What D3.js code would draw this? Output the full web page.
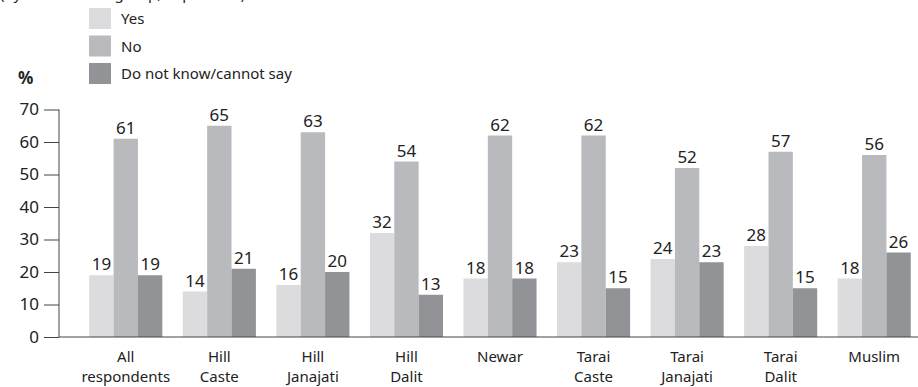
<!DOCTYPE html>
<html>
<head>
<meta charset="utf-8">
<script src="https://cdn.jsdelivr.net/npm/d3@7"></script>
<style>
    body { margin: 0; background: #fff; }
    text { font-family: "Noto Sans", sans-serif; fill: #222; }
</style>
</head>
<body>
<svg id="chart" width="918" height="387"></svg>
<script>
// chart data
let groups = [
    ["All", "respondents"], ["Hill", "Caste"], ["Hill", "Janajati"], ["Hill", "Dalit"],
    ["Newar"], ["Tarai", "Caste"], ["Tarai", "Janajati"], ["Tarai", "Dalit"], ["Muslim"]
];
let seriesNames = ["Yes", "No", "Do not know/cannot say"];
let yesValues = [19, 14, 16, 32, 18, 23, 24, 28, 18];
let noValues = [61, 65, 63, 54, 62, 62, 52, 57, 56];
let dkValues = [19, 21, 20, 13, 18, 15, 23, 15, 26];
let yTicks = [0, 10, 20, 30, 40, 50, 60, 70];

let colors = d3.scaleOrdinal()
    .domain(seriesNames)
    .range(["#dcdcde", "#b9babd", "#929396"]);

let svg = d3.select("#chart");
let axisX = 59;

let x0 = d3.scaleBand()
    .domain(d3.range(groups.length))
    .range([79, 921]);

let x1 = d3.scaleBand()
    .domain(seriesNames)
    .range([0, x0.bandwidth()])
    .paddingOuter(0.42)
    .paddingInner(0);

let y = d3.scaleLinear()
    .domain([0, 70])
    .range([337, 109.5]);

// title line, mostly cut off at the top
svg.append("text")
    .attr("x", 0)
    .attr("y", -1)
    .style("font-size", "15px")
    .text("(by ethnic/caste group, in per cent)");

// legend
let legend = svg.append("g").selectAll("g")
    .data(seriesNames)
    .join("g")
    .attr("transform", (d, i) => `translate(89, ${8 + i * 27.5})`);
legend.append("rect")
    .attr("width", 22)
    .attr("height", 21)
    .attr("fill", (d) => colors(d));
legend.append("text")
    .attr("x", 32)
    .attr("y", 16)
    .style("font-size", "15px")
    .text((d) => d);

svg.append("text")
    .attr("x", 18)
    .attr("y", 84)
    .style("font-size", "17px")
    .style("font-weight", "bold")
    .text("%");

// bars
let rows = groups.map((g, i) => [
    { key: "Yes", value: yesValues[i] },
    { key: "No", value: noValues[i] },
    { key: "Do not know/cannot say", value: dkValues[i] }
]);

let groupG = svg.append("g").selectAll("g")
    .data(rows)
    .join("g")
    .attr("transform", (d, i) => `translate(${x0(i)},0)`);

groupG.selectAll("rect")
    .data((d) => d)
    .join("rect")
    .attr("x", (d) => x1(d.key))
    .attr("y", (d) => y(d.value))
    .attr("width", x1.bandwidth())
    .attr("height", (d) => y(0) - y(d.value))
    .attr("fill", (d) => colors(d.key));

groupG.selectAll("text")
    .data((d) => d)
    .join("text")
    .attr("x", (d) => x1(d.key) + x1.bandwidth() / 2)
    .attr("y", (d) => y(d.value) - 5)
    .attr("text-anchor", "middle")
    .style("font-size", "17px")
    .text((d) => d.value);

// y axis
let yAxis = svg.append("g")
    .attr("transform", `translate(${axisX},0)`)
    .call(d3.axisLeft(y).tickValues(yTicks).tickSize(15).tickPadding(5));
yAxis.select(".domain").attr("stroke", "#444").attr("d", `M0,${y(70)}V${y(0)}`);
yAxis.selectAll(".tick line").attr("stroke", "#444");
yAxis.selectAll("text")
    .style("font-size", "17px")
    .style("font-family", "Noto Sans, sans-serif")
    .attr("fill", "#222");

// x axis line
svg.append("line")
    .attr("x1", axisX)
    .attr("x2", 918)
    .attr("y1", y(0))
    .attr("y2", y(0))
    .attr("stroke", "#444");

// category labels, one text per line
let labelLines = [];
groups.forEach((g, i) => g.forEach((line, j) => labelLines.push({ group: i, line: j, text: line })));

svg.append("g").selectAll("text")
    .data(labelLines)
    .join("text")
    .attr("x", (d) => x0(d.group) + x0.bandwidth() / 2)
    .attr("y", (d) => 362 + d.line * 20)
    .attr("text-anchor", "middle")
    .style("font-size", "15px")
    .text((d) => d.text);
</script>
</body>
</html>
